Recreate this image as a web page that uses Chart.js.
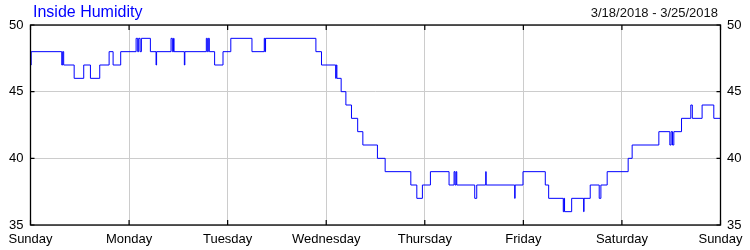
<!DOCTYPE html>
<html>
<head>
<meta charset="utf-8">
<script src="https://cdn.jsdelivr.net/npm/chart.js@4.4.0/dist/chart.umd.min.js"></script>
<style>
html,body{margin:0;padding:0;background:#fff;}
#wrap{position:relative;width:750px;height:250px;overflow:hidden;}
#c{position:absolute;left:0;top:0;}
#title{position:absolute;left:33px;top:4px;font-family:"Liberation Sans",Arial,sans-serif;font-size:16px;line-height:16px;color:#0000ff;white-space:nowrap;}
#range{position:absolute;right:32px;top:6px;font-family:"Liberation Sans",Arial,sans-serif;font-size:13px;line-height:13px;color:#111;white-space:nowrap;}
</style>
</head>
<body>
<div id="wrap">
<canvas id="c" width="750" height="250"></canvas>
<div id="title">Inside Humidity</div>
<div id="range">3/18/2018 - 3/25/2018</div>
</div>
<script>
// hours since Sunday 00:00 (start of each step)
const hours = [
  0, 0.17, 7.61, 7.83, 8.08, 10.63, 12.96, 14.59, 16.86, 19.14, 20.11, 21.96,
  25.71, 26.10, 26.34, 26.68, 27.00, 29.19, 30.57, 30.70, 34.22, 34.54, 34.83, 34.95,
  37.46, 37.58, 42.81, 43.05, 43.29, 43.54, 44.83, 46.87, 48.77, 53.92, 56.92, 57.09,
  57.23, 69.49, 70.85, 74.31, 74.43, 74.60, 75.64, 76.79, 78.15, 79.66, 80.92, 84.47,
  86.35, 92.60, 94.06, 95.42, 97.37, 101.91, 103.13, 103.37, 103.62, 103.79, 108.16, 108.65,
  110.84, 110.94, 117.89, 117.99, 119.91, 125.34, 126.16, 129.72, 129.89, 130.03, 131.76, 134.68,
  134.77, 136.28, 138.47, 138.88, 140.41, 145.52, 146.49, 152.99, 155.67, 155.98, 156.32, 156.64,
  158.51, 160.77, 161.14, 163.52, 166.37, 168
];
// humidity (%) from each step start
const humidity = [
  47, 48, 47, 48, 47, 46, 47, 46, 47, 48, 47, 48,
  49, 48, 49, 48, 49, 48, 47, 48, 49, 48, 49, 48,
  47, 48, 49, 48, 49, 48, 47, 48, 49, 48, 49, 48,
  49, 48, 47, 46, 47, 46, 45, 44, 43, 42, 41, 40,
  39, 38, 37, 38, 39, 38, 39, 38, 39, 38, 37, 38,
  39, 38, 37, 38, 39, 38, 37, 36, 37, 36, 37, 36,
  37, 38, 37, 38, 39, 40, 41, 42, 41, 42, 41, 42,
  43, 44, 43, 44, 43, 43
];
const dayLabels = ['Sunday','Monday','Tuesday','Wednesday','Thursday','Friday','Saturday','Sunday'];
const dayTickHours = [0, 24, 48, 72, 96, 120, 144, 168];
const yTicks = [35, 40, 45, 50];

const points = hours.map((h, i) => ({x: h, y: humidity[i]}));
const FONT = {family: '"Liberation Sans", Arial, sans-serif', size: 13};

const framePlugin = {
  id: 'frame',
  afterDraw(chart) {
    const {ctx, chartArea: a, scales} = chart;
    ctx.save();
    ctx.strokeStyle = '#000';
    ctx.lineWidth = 1.3;
    ctx.strokeRect(a.left, a.top, a.right - a.left, a.bottom - a.top);
    ctx.lineWidth = 1.2;
    ctx.beginPath();
    dayTickHours.forEach(v => {
      const px = scales.x.getPixelForValue(v);
      ctx.moveTo(px, a.top); ctx.lineTo(px, a.top + 5);
      ctx.moveTo(px, a.bottom); ctx.lineTo(px, a.bottom - 5);
    });
    yTicks.forEach(v => {
      const py = scales.y.getPixelForValue(v);
      ctx.moveTo(a.left, py); ctx.lineTo(a.left + 4, py);
      ctx.moveTo(a.right, py); ctx.lineTo(a.right - 4, py);
    });
    ctx.stroke();
    ctx.restore();
  }
};

new Chart(document.getElementById('c'), {
  type: 'line',
  data: {
    datasets: [{
      data: points,
      stepped: true,
      borderColor: '#0000ff',
      borderWidth: 1,
      pointRadius: 0,
      fill: false
    }]
  },
  options: {
    responsive: false,
    animation: false,
    layout: {padding: {top: 25, left: 0, right: 0, bottom: 0}},
    plugins: {legend: {display: false}, tooltip: {enabled: false}, title: {display: false}},
    scales: {
      x: {
        type: 'linear', min: 0, max: 168,
        afterBuildTicks: s => { s.ticks = dayTickHours.map(v => ({value: v})); },
        afterFit: s => { s.height = 25; },
        ticks: {
          autoSkip: false, maxRotation: 0, padding: 7, color: '#000', font: FONT,
          callback: v => dayLabels[dayTickHours.indexOf(v)]
        },
        grid: {color: '#cccccc', drawTicks: false, lineWidth: 1},
        border: {display: false}
      },
      y: {
        position: 'left', min: 35, max: 50,
        afterBuildTicks: s => { s.ticks = yTicks.map(v => ({value: v})); },
        afterFit: s => { s.width = 30.5; },
        ticks: {padding: 7, color: '#000', font: FONT},
        grid: {color: '#cccccc', drawTicks: false, lineWidth: 1},
        border: {display: false}
      },
      y2: {
        position: 'right', min: 35, max: 50,
        afterBuildTicks: s => { s.ticks = yTicks.map(v => ({value: v})); },
        afterFit: s => { s.width = 29.5; },
        ticks: {padding: 6.5, color: '#000', font: FONT},
        grid: {display: false, drawTicks: false},
        border: {display: false}
      }
    }
  },
  plugins: [framePlugin]
});
</script>
</body>
</html>
